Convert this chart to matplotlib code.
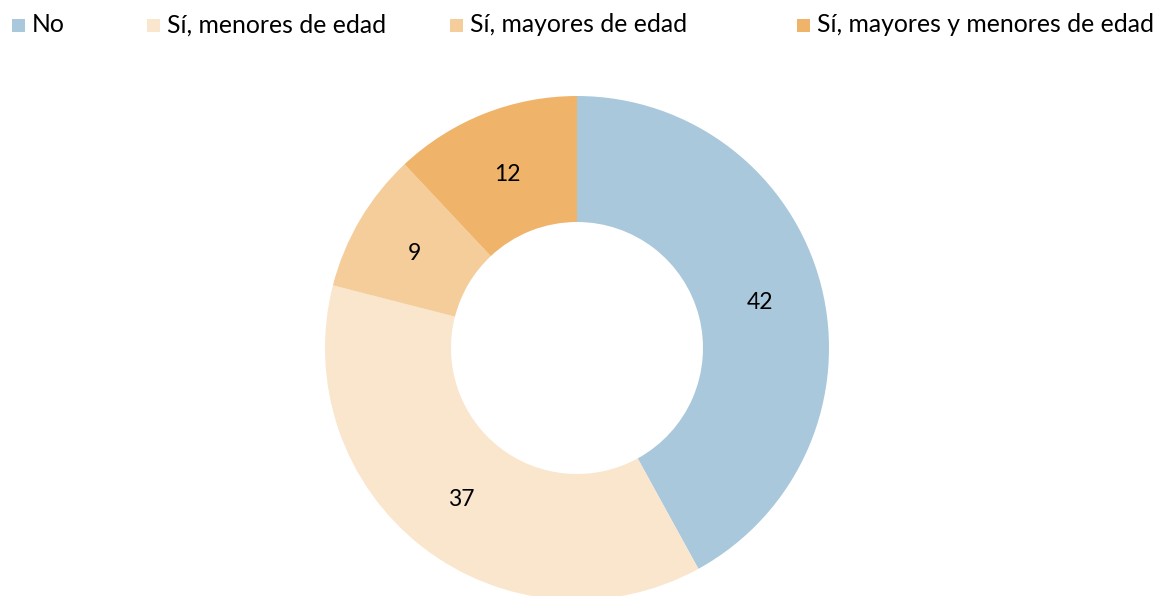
import matplotlib
matplotlib.use("Agg")
import numpy as np
import matplotlib.pyplot as plt
from matplotlib.patches import Rectangle

labels = ["No", "Sí, menores de edad", "Sí, mayores de edad", "Sí, mayores y menores de edad"]
values = [42, 37, 9, 12]
colors = ["#AAC8DC", "#F9E6CD", "#F5CD9B", "#EFB469"]

W, H = 1155, 596
cx, cy = 577, H - 348
fig = plt.figure(figsize=(W / 100, H / 100), dpi=100)
ax = fig.add_axes([0, 0, 1, 1])

font = "Lato"

wedges, _ = ax.pie(
    values, colors=colors, startangle=90, counterclock=False,
    center=(cx, cy), radius=252,
    wedgeprops=dict(width=126, linewidth=0),
)
ax.set_xlim(0, W)
ax.set_ylim(0, H)
ax.set_aspect("equal")
ax.axis("off")

# value labels at the middle of each ring segment
for w, v in zip(wedges, values):
    ang = np.deg2rad((w.theta1 + w.theta2) / 2)
    r = 189
    ax.text(cx + r * np.cos(ang), cy + r * np.sin(ang) - 2, str(v),
            ha="center", va="center", fontsize=16.5, family=font, color="#000000")

# legend row across the top
marker_x = [12, 147, 450, 797]
for x, lab, c in zip(marker_x, labels, colors):
    fig.patches.append(Rectangle((x / W, 1 - 32 / H), 13 / W, 13 / H,
                                 transform=fig.transFigure, facecolor=c, edgecolor="none"))
    fig.text((x + 20) / W, 1 - 25 / H, lab, ha="left", va="center",
             fontsize=17.8, family=font, color="#000000")

fig.savefig("out.png", dpi=100)
